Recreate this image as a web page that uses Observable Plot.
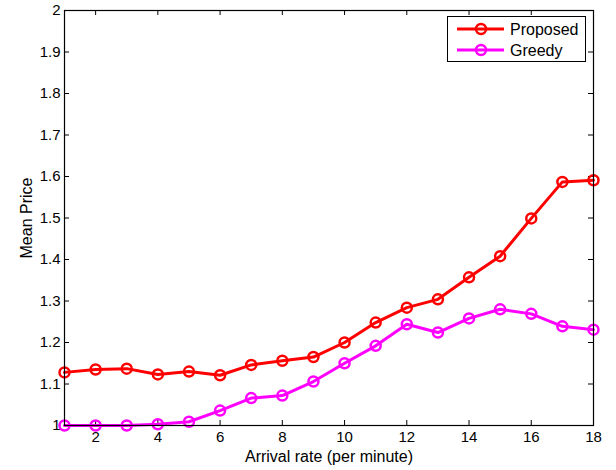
<!DOCTYPE html>
<html><head><meta charset="utf-8">
<script src="https://cdn.jsdelivr.net/npm/d3@7"></script>
<script src="https://cdn.jsdelivr.net/npm/@observablehq/plot@0.6"></script>
<style>
body{margin:0;background:#fff;}
#wrap{position:relative;width:616px;height:470px;font-family:"Liberation Sans",Arial,sans-serif;}
#legend{position:absolute;left:447px;top:16px;width:137px;height:44px;border:1px solid #000;background:#fff;}
#legend svg{display:block;}
</style></head><body><div id="wrap"></div>
<script>
const arrivalRate = [1,2,3,4,5,6,7,8,9,10,11,12,13,14,15,16,17,18];
const proposed = [1.128,1.135,1.137,1.123,1.130,1.121,1.146,1.156,1.165,1.200,1.248,1.284,1.304,1.357,1.408,1.499,1.587,1.591];
const greedy   = [1.000,1.000,1.000,1.003,1.009,1.036,1.066,1.072,1.106,1.150,1.192,1.244,1.224,1.258,1.280,1.269,1.239,1.231];
const xTicks = [2,4,6,8,10,12,14,16,18];
const yTicks = [1,1.1,1.2,1.3,1.4,1.5,1.6,1.7,1.8,1.9,2];
const seriesNames = ["Proposed","Greedy"];
const seriesColors = ["#ff0000","#ff00ff"];
const seriesValues = [proposed, greedy];

const data = [];
seriesNames.forEach((s,i)=>arrivalRate.forEach((x,j)=>data.push({series:s,x,y:seriesValues[i][j]})));

const W=616,H=470,mL=64,mR=23,mT=10,mB=45;
const plotW=W-mL-mR, plotH=H-mT-mB, tk=5;

const chart = Plot.plot({
  width:W,height:H,marginLeft:mL,marginRight:mR,marginTop:mT,marginBottom:mB,
  style:{fontFamily:"Liberation Sans, Arial, sans-serif",fontSize:"15px",color:"#000",background:"#fff"},
  x:{domain:[1,18]},
  y:{domain:[1,2]},
  color:{domain:seriesNames,range:seriesColors},
  marks:[
    Plot.tickX(xTicks,{x:d=>d,insetTop:plotH-tk,stroke:"#000"}),
    Plot.tickX(xTicks,{x:d=>d,insetBottom:plotH-tk,stroke:"#000"}),
    Plot.tickY(yTicks,{y:d=>d,insetRight:plotW-tk,stroke:"#000"}),
    Plot.tickY(yTicks,{y:d=>d,insetLeft:plotW-tk,stroke:"#000"}),
    Plot.axisX({ticks:xTicks,tickSize:0,tickPadding:6,label:null,fontSize:15}),
    Plot.axisX({ticks:[],tickSize:0,label:"Arrival rate (per minute)",labelAnchor:"center",labelOffset:36,labelArrow:"none",fontSize:16}),
    Plot.axisY({ticks:yTicks,tickSize:0,tickPadding:4,tickFormat:d=>String(+d.toFixed(1)),label:null,fontSize:15}),
    Plot.axisY({ticks:[],tickSize:0,label:"Mean Price",labelAnchor:"center",labelOffset:44,labelArrow:"none",fontSize:16}),
    Plot.line(data,{x:"x",y:"y",z:"series",stroke:"series",strokeWidth:3}),
    Plot.dot(data,{x:"x",y:"y",stroke:"series",r:5,strokeWidth:2.5,fill:"none"}),
    Plot.frame({stroke:"#000",strokeWidth:1.2})
  ]
});
const wrap=document.getElementById("wrap");
wrap.appendChild(chart);

const leg=document.createElement("div");
leg.id="legend";
let s='<svg width="137" height="44" xmlns="http://www.w3.org/2000/svg">';
seriesNames.forEach((n,i)=>{
  const cy=12+i*21;
  s+=`<line x1="9" x2="56" y1="${cy}" y2="${cy}" stroke="${seriesColors[i]}" stroke-width="3"/>`;
  s+=`<circle cx="33" cy="${cy}" r="5" fill="none" stroke="${seriesColors[i]}" stroke-width="2.5"/>`;
  s+=`<text x="62" y="${cy}" dy="0.36em" font-size="16" font-family="Liberation Sans, Arial, sans-serif">${n}</text>`;
});
s+='</svg>';
leg.innerHTML=s;
wrap.appendChild(leg);
</script></body></html>
